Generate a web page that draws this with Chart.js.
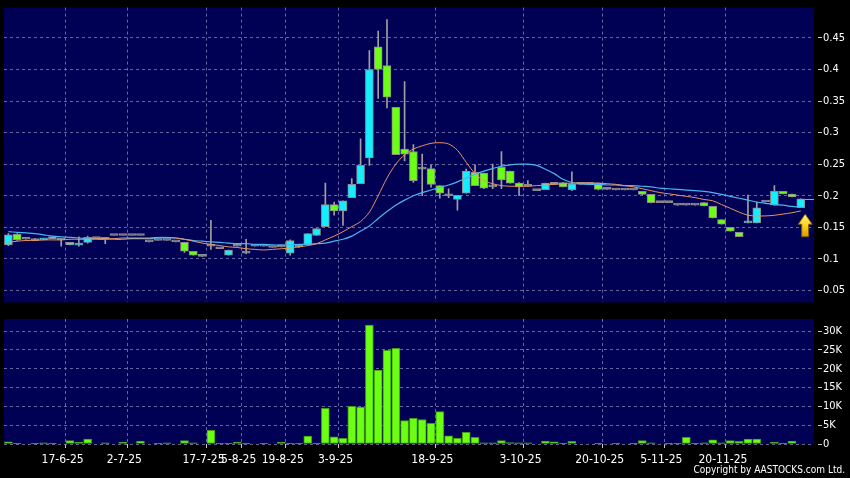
<!DOCTYPE html>
<html>
<head>
<meta charset="utf-8">
<script src="https://cdn.jsdelivr.net/npm/chart.js@4.4.0/dist/chart.umd.min.js"></script>
<style>
html, body { margin: 0; padding: 0; background: #000; }
#wrap { position: relative; width: 850px; height: 478px; overflow: hidden; background: #000; }
#chartPrice { position: absolute; left: 0; top: 0; }
#chartVol { position: absolute; left: 0; top: 310px; }
#copy { position: absolute; right: 5px; top: 464px; color: #fff; font: 10px 'DejaVu Sans Condensed', 'DejaVu Sans', sans-serif; }
</style>
</head>
<body>
<div id="wrap">
<canvas id="chartPrice" width="850" height="310"></canvas>
<canvas id="chartVol" width="850" height="168"></canvas>
<div id="copy">Copyright by AASTOCKS.com Ltd.</div>
</div>
<script>
// one entry per trading day (days without trades are not shown)
var openP = [
    0.122, 0.139, 0.131, 0.129, 0.130, 0.134, 0.130, 0.122, 0.1215, 0.126,
    0.132, 0.134, 0.137, 0.137, 0.137, 0.137, 0.127, 0.129, 0.129, 0.127,
    0.126, 0.112, 0.104, 0.120, 0.116, 0.106, 0.120, 0.109, 0.120, 0.120,
    0.118, 0.119, 0.109, 0.122, 0.1225, 0.137, 0.151, 0.186, 0.176, 0.197,
    0.219, 0.260, 0.436, 0.406, 0.340, 0.274, 0.270, 0.242, 0.243, 0.216,
    0.200, 0.194, 0.204, 0.237, 0.236, 0.214, 0.245, 0.239, 0.220, 0.215,
    0.208, 0.2094, 0.218, 0.221, 0.2094, 0.218, 0.218, 0.220, 0.210, 0.209,
    0.209, 0.209, 0.207, 0.202, 0.189, 0.189, 0.185, 0.185, 0.185, 0.189,
    0.183, 0.162, 0.150, 0.142, 0.157, 0.157, 0.190, 0.185, 0.207, 0.2026,
    0.181
];
var highP = [
    0.140, 0.140, 0.131, 0.132, 0.132, 0.134, 0.132, 0.126, 0.135, 0.136,
    0.132, 0.134, 0.137, 0.137, 0.137, 0.137, 0.127, 0.129, 0.129, 0.127,
    0.126, 0.112, 0.104, 0.161, 0.116, 0.114, 0.120, 0.131, 0.120, 0.120,
    0.118, 0.119, 0.130, 0.123, 0.140, 0.148, 0.220, 0.190, 0.192, 0.227,
    0.290, 0.430, 0.461, 0.479, 0.340, 0.381, 0.281, 0.266, 0.249, 0.216,
    0.211, 0.2005, 0.242, 0.249, 0.236, 0.250, 0.270, 0.239, 0.221, 0.224,
    0.208, 0.220, 0.221, 0.221, 0.238, 0.218, 0.218, 0.220, 0.210, 0.209,
    0.209, 0.209, 0.207, 0.202, 0.189, 0.189, 0.185, 0.185, 0.185, 0.189,
    0.183, 0.162, 0.150, 0.142, 0.201, 0.190, 0.190, 0.216, 0.207, 0.2026,
    0.195
];
var lowP = [
    0.121, 0.129, 0.131, 0.129, 0.130, 0.132, 0.120, 0.122, 0.120, 0.125,
    0.132, 0.124, 0.137, 0.137, 0.137, 0.137, 0.127, 0.129, 0.129, 0.127,
    0.110, 0.106, 0.104, 0.115, 0.116, 0.106, 0.120, 0.108, 0.120, 0.120,
    0.118, 0.119, 0.106, 0.118, 0.1225, 0.137, 0.151, 0.169, 0.153, 0.197,
    0.219, 0.248, 0.354, 0.339, 0.265, 0.255, 0.221, 0.200, 0.2136, 0.196,
    0.197, 0.177, 0.204, 0.216, 0.211, 0.211, 0.211, 0.220, 0.200, 0.215,
    0.208, 0.2094, 0.218, 0.214, 0.208, 0.218, 0.218, 0.209, 0.210, 0.209,
    0.209, 0.209, 0.2016, 0.1886, 0.189, 0.189, 0.185, 0.185, 0.185, 0.184,
    0.165, 0.155, 0.144, 0.135, 0.157, 0.157, 0.190, 0.185, 0.203, 0.198,
    0.181
];
var closeP = [
    0.138, 0.130, 0.131, 0.132, 0.132, 0.132, 0.130, 0.126, 0.125, 0.134,
    0.132, 0.131, 0.137, 0.137, 0.137, 0.137, 0.127, 0.129, 0.129, 0.127,
    0.112, 0.106, 0.104, 0.120, 0.116, 0.114, 0.120, 0.109, 0.120, 0.120,
    0.118, 0.119, 0.129, 0.119, 0.140, 0.148, 0.186, 0.176, 0.192, 0.218,
    0.248, 0.400, 0.400, 0.356, 0.265, 0.266, 0.224, 0.242, 0.218, 0.204,
    0.200, 0.2005, 0.239, 0.216, 0.212, 0.214, 0.225, 0.220, 0.214, 0.215,
    0.208, 0.220, 0.221, 0.214, 0.219, 0.218, 0.218, 0.210, 0.210, 0.209,
    0.209, 0.209, 0.202, 0.189, 0.189, 0.189, 0.185, 0.185, 0.185, 0.184,
    0.165, 0.155, 0.144, 0.135, 0.160, 0.181, 0.190, 0.207, 0.203, 0.198,
    0.195
];
var volume = [
    600, 100, 0, 200, 300, 100, 0, 900, 500, 1300,
    0, 300, 0, 500, 0, 800, 0, 100, 300, 0,
    900, 300, 0, 3600, 200, 200, 500, 100, 0, 200,
    0, 500, 200, 200, 2100, 200, 9500, 1900, 1500, 10000,
    9800, 31600, 19600, 24900, 25400, 6200, 6800, 6500, 5500, 8600,
    2200, 1500, 3100, 1800, 300, 300, 900, 400, 300, 300,
    0, 800, 600, 100, 700, 0, 0, 100, 0, 100,
    0, 200, 900, 300, 0, 100, 100, 1800, 100, 300,
    1100, 300, 900, 700, 1300, 1300, 0, 500, 100, 800,
    0
];
// moving averages
var maShort = [
    0.126, 0.128, 0.129, 0.129, 0.130, 0.130, 0.130, 0.131, 0.131, 0.131,
    0.132, 0.132, 0.132, 0.133, 0.133, 0.133, 0.133, 0.134, 0.134, 0.133,
    0.131, 0.128, 0.125, 0.123, 0.121, 0.119, 0.118, 0.116, 0.115, 0.114,
    0.115, 0.116, 0.117, 0.119, 0.121, 0.124, 0.130, 0.136, 0.143, 0.151,
    0.159, 0.174, 0.200, 0.228, 0.250, 0.265, 0.274, 0.279, 0.283, 0.284,
    0.282, 0.272, 0.253, 0.235, 0.224, 0.219, 0.216, 0.215, 0.215, 0.215,
    0.216, 0.217, 0.218, 0.219, 0.220, 0.220, 0.220, 0.220, 0.219, 0.218,
    0.216, 0.214, 0.211, 0.208, 0.205, 0.203, 0.201, 0.199, 0.197, 0.194,
    0.192, 0.186, 0.180, 0.174, 0.169, 0.168, 0.168, 0.169, 0.171, 0.173,
    0.176
];
var maLong = [
    0.143, 0.142, 0.141, 0.140, 0.138, 0.136, 0.135, 0.134, 0.133, 0.132,
    0.131, 0.131, 0.131, 0.131, 0.132, 0.132, 0.132, 0.133, 0.133, 0.133,
    0.131, 0.129, 0.128, 0.127, 0.126, 0.125, 0.124, 0.124, 0.123, 0.123,
    0.122, 0.122, 0.122, 0.123, 0.123, 0.124, 0.125, 0.128, 0.131, 0.136,
    0.144, 0.152, 0.164, 0.175, 0.185, 0.193, 0.200, 0.205, 0.209, 0.213,
    0.217, 0.222, 0.228, 0.234, 0.239, 0.243, 0.247, 0.249, 0.250, 0.250,
    0.248, 0.242, 0.235, 0.226, 0.221, 0.219, 0.218, 0.218, 0.217, 0.217,
    0.216, 0.216, 0.215, 0.214, 0.212, 0.211, 0.210, 0.209, 0.208, 0.207,
    0.205, 0.202, 0.199, 0.196, 0.193, 0.190, 0.188, 0.186, 0.185, 0.183,
    0.182
];
var dateLabels = ["17-6-25", "2-7-25", "17-7-25", "5-8-25", "19-8-25", "3-9-25", "18-9-25", "3-10-25", "20-10-25", "5-11-25", "20-11-25"];
var dateIdx = [6, 13, 22, 26, 31, 37, 48, 58, 67, 74, 81];
var priceTicks = [0.05, 0.1, 0.15, 0.2, 0.25, 0.3, 0.35, 0.4, 0.45];
var volTicks = [0, 5000, 10000, 15000, 20000, 25000, 30000];
var arrowAt = 90.5, arrowTip = 0.171, arrowBase = 0.135;

var NAVY = '#000055';
var GRID = 'rgba(135,135,190,0.75)';
var UP = '#14eeff';
var DOWN = '#6cff14';
var FLAT = '#a0a0a0';

Chart.defaults.font.family = "'DejaVu Sans Condensed', 'DejaVu Sans', sans-serif";
Chart.defaults.font.size = 11;
Chart.defaults.color = '#ffffff';

var navyBg = {
    id: 'navyBg',
    beforeDraw: function (chart) {
        var a = chart.chartArea, c = chart.ctx;
        c.save();
        c.fillStyle = NAVY;
        c.fillRect(a.left, a.top, a.right - a.left, a.bottom - a.top);
        c.restore();
    }
};

var lastMark = {
    id: 'lastMark',
    afterDatasetsDraw: function (chart) {
        var c = chart.ctx, xs = chart.scales.x, ys = chart.scales.y;
        var last = closeP.length - 1;
        var ly = Math.round(ys.getPixelForValue(closeP[last])) + 0.5;
        c.save();
        c.strokeStyle = FLAT;
        c.lineWidth = 1;
        c.beginPath();
        c.moveTo(xs.getPixelForValue(last) + 4, ly);
        c.lineTo(chart.chartArea.right, ly);
        c.stroke();

        var ax = xs.getPixelForValue(arrowAt);
        var top = ys.getPixelForValue(arrowTip), bot = ys.getPixelForValue(arrowBase);
        var headH = (bot - top) * 0.45;
        var g = c.createLinearGradient(0, top, 0, bot);
        g.addColorStop(0, '#fff47a');
        g.addColorStop(0.5, '#ffd21c');
        g.addColorStop(1, '#d99a00');
        c.beginPath();
        c.moveTo(ax, top);
        c.lineTo(ax + 7, top + headH);
        c.lineTo(ax + 3.5, top + headH);
        c.lineTo(ax + 3.5, bot);
        c.lineTo(ax - 3.5, bot);
        c.lineTo(ax - 3.5, top + headH);
        c.lineTo(ax - 7, top + headH);
        c.closePath();
        c.fillStyle = g;
        c.fill();
        c.strokeStyle = '#7a5a00';
        c.stroke();
        c.restore();
    }
};

function setDateTicks(scale) {
    scale.ticks = dateIdx.map(function (k) { return { value: k + 0.5 }; });
}

function dateLabel(v) {
    var i = dateIdx.indexOf(v - 0.5);
    return i >= 0 ? dateLabels[i] : '';
}

function drawPriceChart() {
    var bodies = [], wicks = [], bodyColors = [], lineA = [], lineB = [];
    for (var i = 0; i < closeP.length; i++) {
        bodies.push({ x: i, y: [openP[i], closeP[i]] });
        wicks.push({ x: i, y: [lowP[i], highP[i]] });
        bodyColors.push(closeP[i] > openP[i] ? UP : (closeP[i] < openP[i] ? DOWN : FLAT));
        lineA.push({ x: i, y: maShort[i] });
        lineB.push({ x: i, y: maLong[i] });
    }
    var ctxPrice = document.getElementById("chartPrice");
    var chartPrice = new Chart(ctxPrice, {
        type: 'bar',
        data: {
            datasets: [{
                type: 'line',
                data: lineA,
                borderColor: '#e8955f',
                borderWidth: 1,
                pointRadius: 0,
                tension: 0.3,
                order: 0
            }, {
                type: 'line',
                data: lineB,
                borderColor: '#4ab4f0',
                borderWidth: 1.2,
                pointRadius: 0,
                tension: 0.3,
                order: 0
            }, {
                data: bodies,
                backgroundColor: bodyColors,
                borderColor: '#8c8c8c',
                borderWidth: 1,
                borderSkipped: false,
                barThickness: 8,
                minBarLength: 2,
                grouped: false,
                order: 1
            }, {
                data: wicks,
                backgroundColor: FLAT,
                barThickness: 1,
                grouped: false,
                order: 2
            }]
        },
        options: {
            responsive: false,
            animation: false,
            events: [],
            layout: { padding: { left: 4, top: 6, right: 0, bottom: 5 } },
            plugins: { legend: { display: false }, tooltip: { enabled: false } },
            scales: {
                x: {
                    type: 'linear',
                    min: -0.5,
                    max: 91.5,
                    offset: false,
                    afterBuildTicks: setDateTicks,
                    afterFit: function (s) { s.height = 0; },
                    ticks: { display: false },
                    grid: { offset: false, color: GRID, drawTicks: false },
                    border: { display: false, dash: [3, 3] }
                },
                y: {
                    position: 'right',
                    min: 0.031,
                    max: 0.498,
                    afterBuildTicks: function (s) { s.ticks = priceTicks.map(function (v) { return { value: v }; }); },
                    afterFit: function (s) { s.width = 36; },
                    ticks: { padding: 1, color: '#fff', callback: function (v) { return String(v); } },
                    grid: {
                        color: GRID, tickLength: 8,
                        tickColor: '#c8c8c8', tickBorderDash: [4, 4], tickBorderDashOffset: 4
                    },
                    border: { display: false, dash: [3, 3] }
                }
            }
        },
        plugins: [navyBg, lastMark]
    });
}

function drawVolumeChart() {
    var bars = [];
    for (var i = 0; i < volume.length; i++) {
        bars.push({ x: i, y: volume[i] });
    }
    var ctxVol = document.getElementById("chartVol");
    var chartVol = new Chart(ctxVol, {
        type: 'bar',
        data: {
            datasets: [{
                data: bars,
                backgroundColor: DOWN,
                borderColor: '#3f9a10',
                borderWidth: 1,
                borderSkipped: false,
                barThickness: 8
            }]
        },
        options: {
            responsive: false,
            animation: false,
            events: [],
            layout: { padding: { left: 4, top: 9, right: 0, bottom: 0 } },
            plugins: { legend: { display: false }, tooltip: { enabled: false } },
            scales: {
                x: {
                    type: 'linear',
                    min: -0.5,
                    max: 91.5,
                    offset: false,
                    afterBuildTicks: setDateTicks,
                    afterFit: function (s) { s.height = 34; },
                    ticks: { autoSkip: false, maxRotation: 0, minRotation: 0, padding: 5, labelOffset: -3, color: '#fff', font: { size: 12 }, callback: dateLabel },
                    grid: { offset: false, color: GRID, tickLength: 4, tickColor: '#c8c8c8', tickBorderDash: [] },
                    border: { display: false, dash: [3, 3] }
                },
                y: {
                    position: 'right',
                    min: 0,
                    max: 33200,
                    afterBuildTicks: function (s) { s.ticks = volTicks.map(function (v) { return { value: v }; }); },
                    afterFit: function (s) { s.width = 36; },
                    ticks: { padding: 1, color: '#fff', callback: function (v) { return v === 0 ? '0' : (v / 1000) + 'K'; } },
                    grid: {
                        color: GRID, tickLength: 8,
                        tickColor: '#c8c8c8', tickBorderDash: [4, 4], tickBorderDashOffset: 4
                    },
                    border: { display: false, dash: [3, 3] }
                }
            }
        },
        plugins: [navyBg]
    });
}

drawPriceChart();
drawVolumeChart();
</script>
</body>
</html>
